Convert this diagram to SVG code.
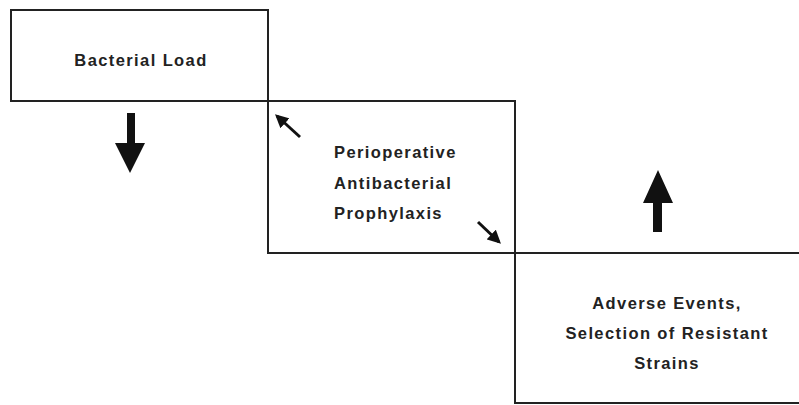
<svg xmlns="http://www.w3.org/2000/svg" width="799" height="405" viewBox="0 0 799 405">
<style>
.box{fill:none;stroke:#222;stroke-width:2}
.t{font-family:"Liberation Sans",Arial,sans-serif;font-weight:bold;font-size:16.5px;letter-spacing:1.4px;fill:#222}
.big{fill:#111}
.sm{stroke:#111;stroke-width:3;fill:none}
</style>
<defs>
<marker id="ah" viewBox="0 0 10 10" refX="8" refY="5" markerWidth="4.5" markerHeight="4.5" orient="auto">
<path d="M0,0 L10,5 L0,10 z" fill="#111"/>
</marker>
</defs>
<rect width="799" height="405" fill="#fff"/>
<g id="node-bacterial">
<rect class="box" x="11" y="10" width="257" height="91"/>
<text class="t" x="141" y="66" text-anchor="middle">Bacterial Load</text>
</g>
<g id="node-prophylaxis">
<rect class="box" x="268" y="101" width="247" height="152"/>
<text class="t" x="334" y="158">Perioperative</text>
<text class="t" x="334" y="189">Antibacterial</text>
<text class="t" x="334" y="219">Prophylaxis</text>
</g>
<g id="node-adverse">
<path class="box" d="M515,253 H799 M515,253 V403 H799"/>
<text class="t" x="667" y="309" text-anchor="middle">Adverse Events,</text>
<text class="t" x="667" y="339" text-anchor="middle">Selection of Resistant</text>
<text class="t" x="667" y="369" text-anchor="middle">Strains</text>
</g>
<g id="connectors">
<path class="big" d="M127,113 H135 V143 H145 L130,173 L115,143 H127 Z"/>
<path class="big" d="M653,232 V203 H643 L658,170 L673,203 H662 V232 Z"/>
<line class="sm" x1="300" y1="137" x2="277" y2="116" marker-end="url(#ah)"/>
<line class="sm" x1="478" y1="222" x2="499" y2="242" marker-end="url(#ah)"/>
</g>
</svg>
